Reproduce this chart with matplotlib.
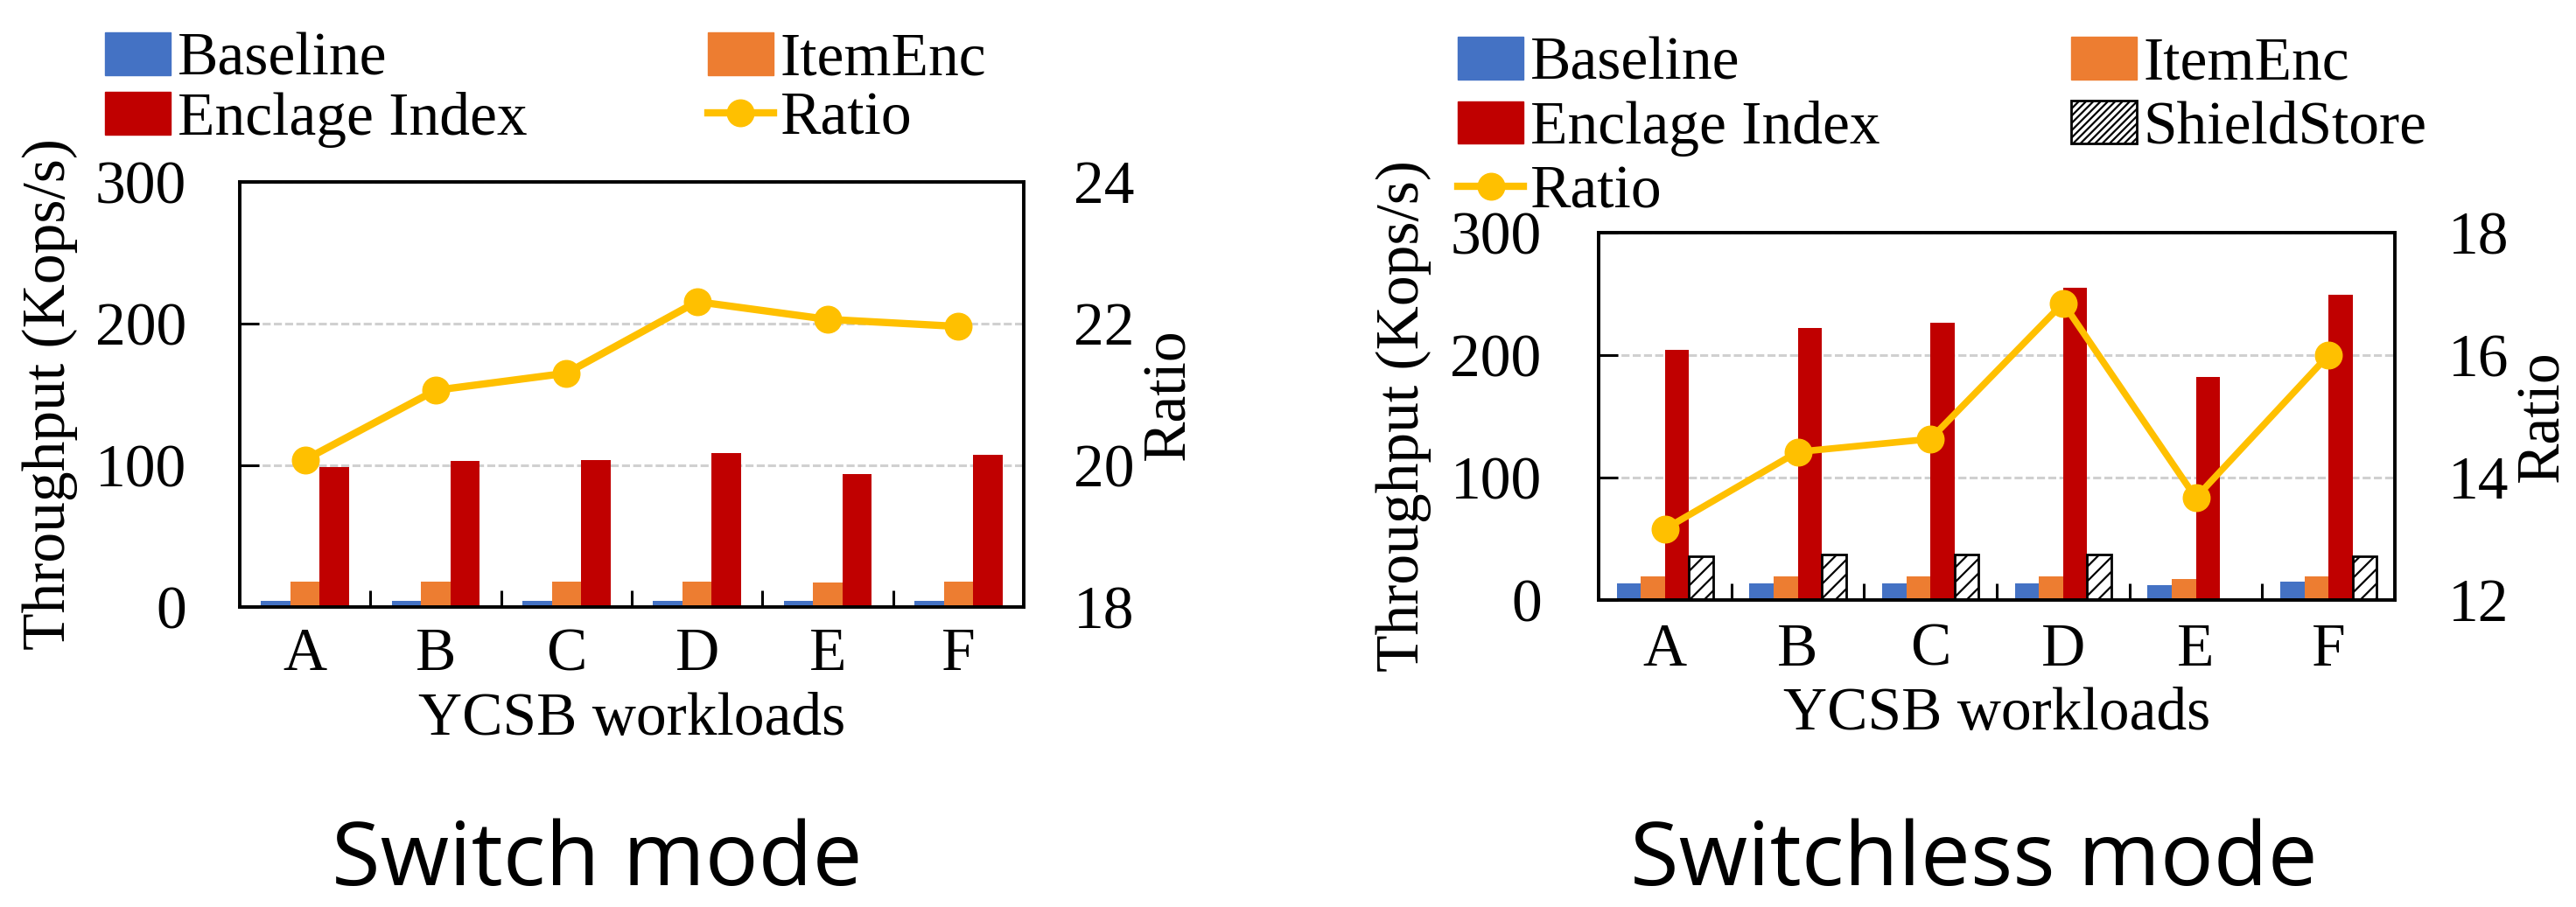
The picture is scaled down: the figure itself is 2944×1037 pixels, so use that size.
import numpy as np
import matplotlib
matplotlib.use('Agg')
import matplotlib.pyplot as plt
from matplotlib.patches import Patch
from matplotlib.lines import Line2D

plt.rcParams['font.family'] = ['Liberation Serif', 'DejaVu Serif']
plt.rcParams['hatch.linewidth'] = 1.6

workloads = ['A', 'B', 'C', 'D', 'E', 'F']

# switch mode (Kops/s), ratio on right axis
sw_baseline = [4.4, 4.4, 4.4, 4.4, 4.4, 4.4]
sw_itemenc = [18, 18, 18, 18, 17, 18]
sw_enclage = [98.5, 102.9, 104.0, 108.8, 93.6, 107.7]
sw_ratio = [20.08, 21.06, 21.30, 22.31, 22.06, 21.96]

# switchless mode
sl_baseline = [13.9, 13.9, 13.9, 13.9, 12.2, 15.2]
sl_itemenc = [19.2, 19.2, 19.2, 19.2, 17.2, 19.2]
sl_enclage = [204.6, 222.0, 226.6, 254.7, 181.8, 249.0]
sl_shield = [35.7, 37.0, 37.0, 37.0, np.nan, 35.7]
sl_ratio = [13.16, 14.42, 14.63, 16.85, 13.67, 16.0]

BLUE = '#4472C4'
ORANGE = '#ED7D31'
RED = '#C00000'
YELLOW = '#FFC000'
FS = 50

fig = plt.figure(figsize=(29.44, 10.37), dpi=100)


def style_axes(ax, ax2, rlim, rticks, lpad, rpad, xpad):
    x = np.arange(len(workloads))
    ax.set_xlim(-0.5, len(workloads) - 0.5)
    ax.set_ylim(0, 300)
    ax.set_yticks([0, 100, 200, 300])
    ax.set_xticks(x)
    ax.set_xticklabels(workloads)
    ax.set_xticks(x[:-1] + 0.5, minor=True)
    ax.tick_params(axis='x', which='major', length=0, pad=xpad, labelsize=FS)
    ax.tick_params(axis='x', which='minor', direction='in', length=14, width=2.2)
    ax.tick_params(axis='y', direction='in', length=16, width=2.2, pad=lpad, labelsize=FS)
    ax.yaxis.grid(True, color='#D0D0D0', linewidth=2.2, linestyle=(0, (3, 1.2)))
    ax.set_axisbelow(True)
    for s in ax.spines.values():
        s.set_linewidth(2.6)
    ax2.set_ylim(*rlim)
    ax2.set_yticks(rticks)
    ax2.tick_params(axis='y', length=0, pad=rpad, labelsize=FS)
    for s in ax2.spines.values():
        s.set_linewidth(2.6)


# ---- switch mode ----
ax1 = fig.add_axes([274 / 2944, 1 - 694 / 1037, 896 / 2944, 486 / 1037])
x = np.arange(len(workloads))
w = 0.225
ax1.bar(x - w, sw_baseline, w, color=BLUE)
ax1.bar(x, sw_itemenc, w, color=ORANGE)
ax1.bar(x + w, sw_enclage, w, color=RED)
ax1r = ax1.twinx()
ax1r.plot(x, sw_ratio, color=YELLOW, linewidth=6, marker='o', markersize=22)
style_axes(ax1, ax1r, (18, 24), [18, 20, 22, 24], 44, 41, 17)
ax1.set_ylabel('Throughput (Kops/s)', fontsize=FS)
ax1.yaxis.set_label_coords(-0.206, 0.5)
ax1r.set_ylabel('Ratio', fontsize=FS)
ax1r.yaxis.set_label_coords(1.151, 0.5)
ax1.set_xlabel('YCSB workloads', fontsize=FS)
ax1.xaxis.set_label_coords(0.5, -0.2)

h1 = [Patch(color=BLUE), Patch(color=RED), Patch(color=ORANGE),
      Line2D([], [], color=YELLOW, linewidth=6, marker='o', markersize=22)]
l1 = ['Baseline', 'Enclage Index', 'ItemEnc', 'Ratio']
fig.legend(h1, l1, loc='upper left', bbox_to_anchor=(120 / 2944, 1 - 37 / 1037),
           ncol=2, frameon=False, fontsize=FS, handlelength=1.08, handleheight=0.7,
           handletextpad=0.115, columnspacing=2.97, labelspacing=0.06,
           borderpad=0, borderaxespad=0)

# ---- switchless mode ----
ax2 = fig.add_axes([1827 / 2944, 1 - 686 / 1037, 910 / 2944, 420 / 1037])
w = 0.182
ax2.bar(x - 1.5 * w, sl_baseline, w, color=BLUE)
ax2.bar(x - 0.5 * w, sl_itemenc, w, color=ORANGE)
ax2.bar(x + 0.5 * w, sl_enclage, w, color=RED)
ax2.bar(x + 1.5 * w, sl_shield, w, color='white', edgecolor='black', linewidth=2, hatch='//')
ax2r = ax2.twinx()
ax2r.plot(x, sl_ratio, color=YELLOW, linewidth=5.5, marker='o', markersize=22)
style_axes(ax2, ax2r, (12, 18), [12, 14, 16, 18], 47, 44, 19)
ax2.set_ylabel('Throughput (Kops/s)', fontsize=FS)
ax2.yaxis.set_label_coords(-0.21, 0.5)
ax2r.set_ylabel('Ratio', fontsize=FS)
ax2r.yaxis.set_label_coords(1.152, 0.5)
ax2.set_xlabel('YCSB workloads', fontsize=FS)
ax2.xaxis.set_label_coords(0.5, -0.238)

h2 = [Patch(color=BLUE), Patch(color=RED),
      Line2D([], [], color=YELLOW, linewidth=6, marker='o', markersize=22),
      Patch(color=ORANGE), Patch(facecolor='white', edgecolor='black', linewidth=2, hatch='////')]
l2 = ['Baseline', 'Enclage Index', 'Ratio', 'ItemEnc', 'ShieldStore']
fig.legend(h2, l2, loc='upper left', bbox_to_anchor=(1666 / 2944, 1 - 42 / 1037),
           ncol=2, frameon=False, fontsize=FS, handlelength=1.08, handleheight=0.7,
           handletextpad=0.115, columnspacing=3.14, labelspacing=0.14,
           borderpad=0, borderaxespad=0)

# captions under each chart
fig.text(682 / 2944, 1 - 1012 / 1037, 'Switch mode', ha='center', va='baseline',
         fontsize=73, family=['Open Sans', 'DejaVu Sans'])
fig.text(2256 / 2944, 1 - 1012 / 1037, 'Switchless mode', ha='center', va='baseline',
         fontsize=73, family=['Open Sans', 'DejaVu Sans'])

fig.savefig('out.png', dpi=100)
